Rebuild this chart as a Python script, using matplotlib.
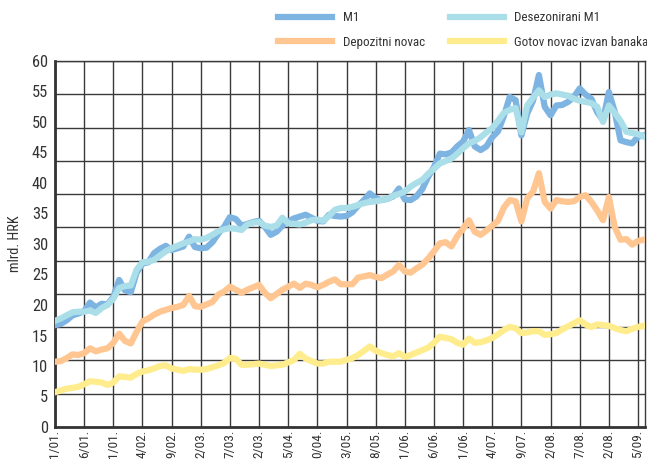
import numpy as np
import matplotlib
matplotlib.use("Agg")
import matplotlib.pyplot as plt
from matplotlib import font_manager as fm

# pick a narrow sans if one is installed, the original uses a condensed face
narrow = None
stretch = 'normal'
wanted = ['Liberation Sans Narrow', 'Roboto Condensed', 'Open Sans Condensed',
          'Noto Sans Condensed', 'DejaVu Sans Condensed']
fonts = fm.fontManager.ttflist
for name in wanted:
    if any(f.name == name for f in fonts):
        narrow = name
        break
if narrow is None:
    for f in fonts:
        st = f.stretch
        if isinstance(st, str) and st in ('condensed', 'semi-condensed') and f.style == 'normal':
            if f.name in ('DejaVu Sans', 'Noto Sans', 'Open Sans', 'Roboto', 'Liberation Sans'):
                narrow = f.name
                stretch = st
                break
if narrow is None:
    narrow = 'DejaVu Sans'
    fs_scale = 0.84
else:
    fs_scale = 1.0
plt.rcParams['font.family'] = [narrow, 'DejaVu Sans']
plt.rcParams['font.stretch'] = stretch

# monthly data, 01/2001 - 06/2009 (mlrd. HRK)
m1 = [16.7, 16.9, 17.5, 18.3, 18.6, 19.0, 20.4, 19.6, 20.2, 20.1, 21.3, 24.1,
      22.4, 22.1, 25.3, 26.8, 27.0, 28.5, 29.2, 29.7, 29.0, 29.3, 29.6, 31.2,
      29.5, 29.3, 29.4, 30.3, 31.7, 32.8, 34.4, 34.1, 33.0, 33.3, 33.6, 33.8,
      32.8, 31.5, 32.0, 33.0, 33.7, 34.2, 34.5, 34.8, 34.3, 33.8, 33.7, 34.8,
      34.6, 34.5, 34.6, 35.2, 36.3, 37.2, 38.3, 37.5, 37.2, 37.4, 37.8, 39.1,
      37.3, 37.2, 37.8, 39.0, 41.0, 42.6, 44.8, 44.7, 45.0, 46.0, 46.8, 48.7,
      46.0, 45.4, 46.0, 47.5, 48.5, 51.0, 54.1, 53.6, 47.8, 51.4, 53.5, 57.7,
      52.5, 51.1, 52.7, 52.8, 53.3, 54.1, 55.5, 54.5, 53.8, 51.6, 50.3, 54.9,
      51.7, 47.0, 46.7, 46.5, 47.6, 47.8]
m1_sa = [17.4, 17.8, 18.3, 18.8, 18.9, 18.9, 19.1, 18.7, 19.5, 20.0, 21.0, 22.8,
         23.1, 23.2, 25.8, 27.0, 27.1, 27.4, 28.1, 28.8, 29.3, 29.7, 30.1, 30.4,
         30.8, 30.7, 31.0, 31.5, 32.1, 32.4, 32.6, 32.5, 32.3, 33.2, 33.5, 33.6,
         33.0, 32.8, 33.0, 34.3, 33.4, 33.3, 33.2, 33.5, 33.9, 34.0, 33.8, 34.6,
         35.6, 35.9, 35.9, 36.1, 36.4, 36.7, 36.9, 37.0, 37.2, 37.4, 37.9, 38.2,
         38.6, 39.4, 40.0, 40.5, 41.5, 42.3, 43.2, 43.6, 44.0, 44.8, 45.7, 46.5,
         46.9, 47.5, 48.3, 49.0, 50.2, 51.5, 52.0, 52.3, 48.3, 52.7, 54.0, 55.2,
         54.1, 54.5, 54.7, 54.5, 54.3, 53.8, 53.5, 53.3, 53.1, 52.5, 50.0, 52.7,
         51.5, 50.2, 48.4, 48.2, 48.0, 47.6]
deposits = [10.7, 10.8, 11.3, 11.9, 11.8, 12.1, 12.9, 12.4, 12.7, 12.9, 13.8, 15.3,
            14.1, 13.7, 15.6, 17.3, 17.8, 18.4, 18.9, 19.2, 19.5, 19.7, 20.0, 21.5,
            19.8, 19.7, 20.1, 20.5, 21.7, 22.2, 23.0, 22.5, 22.0, 22.5, 22.9, 23.3,
            22.0, 21.1, 21.8, 22.5, 23.0, 23.5, 22.8, 23.5, 23.3, 22.9, 23.3, 23.8,
            24.2, 23.4, 23.4, 23.4, 24.5, 24.7, 24.9, 24.6, 24.4, 25.0, 25.5, 26.6,
            25.5, 25.3, 26.0, 26.6, 27.6, 28.8, 30.1, 30.3, 29.6, 31.3, 32.5, 33.9,
            32.0, 31.5, 32.2, 33.0, 33.8, 36.0, 37.2, 37.0, 33.7, 37.5, 38.6, 41.6,
            36.9, 35.8, 37.2, 37.0, 36.9, 37.0, 37.7, 38.0, 36.9, 35.5, 33.9, 37.7,
            32.8, 30.7, 30.8, 29.9, 30.5, 30.7]
currency = [5.7, 6.0, 6.3, 6.4, 6.6, 7.0, 7.5, 7.4, 7.3, 6.9, 7.3, 8.3,
            8.2, 8.1, 8.7, 9.1, 9.3, 9.6, 10.0, 10.1, 9.6, 9.4, 9.2, 9.5,
            9.4, 9.4, 9.5, 9.8, 10.1, 10.5, 11.3, 11.2, 10.2, 10.2, 10.3, 10.4,
            10.2, 10.0, 10.1, 10.2, 10.6, 11.0, 12.0, 11.2, 10.8, 10.4, 10.4, 10.7,
            10.7, 10.7, 11.0, 11.3, 11.8, 12.5, 13.2, 12.5, 12.1, 11.8, 11.6, 12.1,
            11.5, 11.8, 12.2, 12.6, 13.0, 13.8, 14.8, 14.6, 14.4, 13.8, 13.5, 14.5,
            13.8, 13.9, 14.2, 14.6, 15.2, 15.9, 16.4, 16.2, 15.4, 15.5, 15.7, 15.7,
            15.1, 15.2, 15.4, 16.0, 16.5, 17.0, 17.5, 16.8, 16.4, 16.8, 16.7, 16.6,
            16.2, 15.9, 15.7, 16.1, 16.4, 16.6]

tick_labels = ["1/01.", "6/01.", "1/01.", "4/02.", "9/02.", "2/03.", "7/03.",
               "2/03.", "5/04.", "0/04.", "3/05.", "8/05.", "1/06.", "6/06.",
               "1/06.", "4/07.", "9/07.", "2/08.", "7/08.", "2/08.", "5/09."]

months = np.arange(len(m1))
grid_col = '#3a3a3a'
txt_col = '#333333'

fig = plt.figure(figsize=(6.47, 4.62), dpi=100)
ax = fig.add_axes([55/647, 35/462, 590/647, 366/462])

# grid: vertical at every 5th month, horizontal in 11 equal bands
for k in range(0, 101, 5):
    ax.axvline(k, color=grid_col, lw=1.0, zorder=1)
for k in range(1, 12):
    ax.axhline(60 / 11 * k, color=grid_col, lw=1.0, zorder=1)

ax.plot(months, m1, color='#7eb4e2', lw=4.5, label='M1', zorder=3)
ax.plot(months, m1_sa, color='#aadee8', lw=4.5, label='Desezonirani M1', zorder=4)
ax.plot(months, deposits, color='#ffc691', lw=4.5, label='Depozitni novac', zorder=3)
ax.plot(months, currency, color='#ffec8c', lw=4.5, label='Gotov novac izvan banaka', zorder=3)

ax.set_xlim(0, 101.2)
ax.set_ylim(0, 60)
ax.set_xticks(range(0, 101, 5))
ax.set_xticklabels(tick_labels, rotation=90, fontsize=9.6 * fs_scale, color=txt_col)
ax.set_yticks(range(0, 61, 5))
ax.set_yticklabels([str(v) for v in range(0, 61, 5)], fontsize=11.8 * fs_scale, color=txt_col)
ax.tick_params(length=0, pad=5)
ax.tick_params(axis='x', pad=2)

for side in ['left', 'bottom']:
    ax.spines[side].set_linewidth(2)
    ax.spines[side].set_color('#333333')
for side in ['top', 'right']:
    ax.spines[side].set_linewidth(1)
    ax.spines[side].set_color(grid_col)

ax.set_ylabel('mlrd. HRK', fontsize=10.3 * fs_scale, color=txt_col, labelpad=7)

h, l = ax.get_legend_handles_labels()
order = [0, 2, 1, 3]
fig.legend([h[i] for i in order], [l[i] for i in order], ncol=2,
           loc='upper left', bbox_to_anchor=(278/647, 0.976), frameon=False,
           fontsize=9.4 * fs_scale, handlelength=4.15 / fs_scale, handletextpad=0.8,
           columnspacing=1.9, labelspacing=0.88 / fs_scale, borderpad=0,
           borderaxespad=0, labelcolor=txt_col)

fig.savefig('out.png', dpi=100)
